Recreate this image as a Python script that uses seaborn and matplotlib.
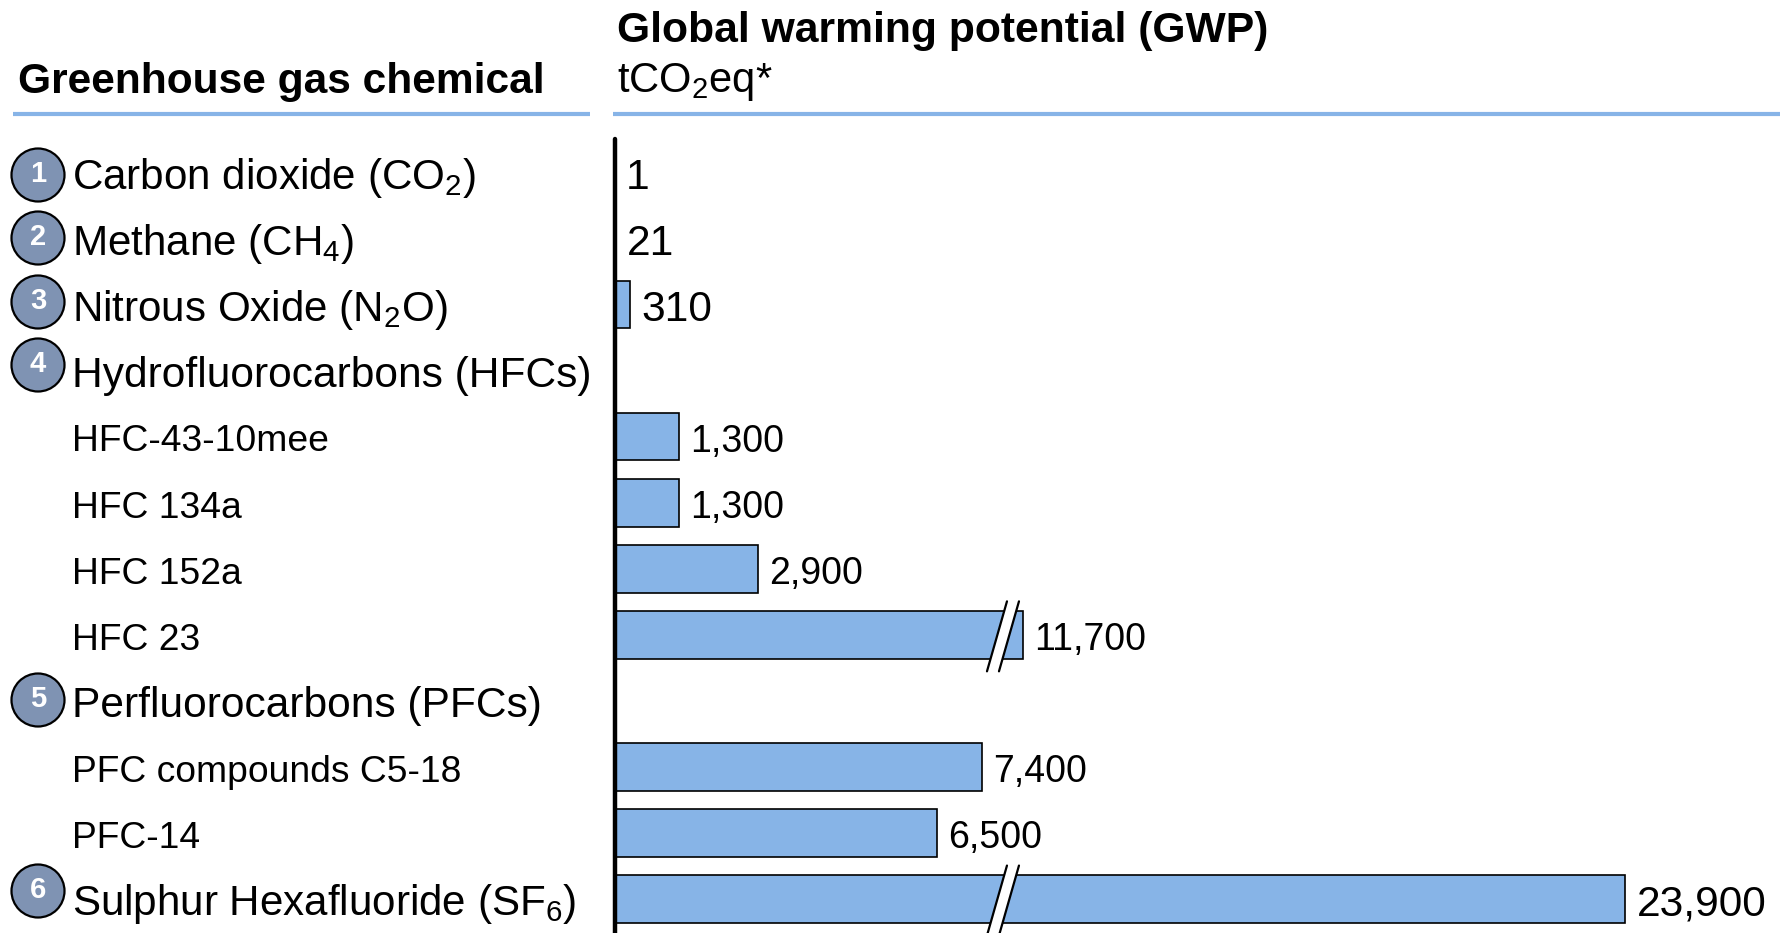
# GWP of greenhouse gases, horizontal bars with a broken axis
import numpy as np
import pandas as pd
import matplotlib
matplotlib.use('Agg')
import matplotlib.pyplot as plt
from matplotlib.patches import Circle
from matplotlib.transforms import blended_transform_factory
import seaborn as sns

# Data
gases = ['Carbon dioxide (CO$_2$)', 'Methane (CH$_4$)', 'Nitrous Oxide (N$_2$O)',
         'Hydrofluorocarbons (HFCs)', 'HFC-43-10mee', 'HFC 134a', 'HFC 152a', 'HFC 23',
         'Perfluorocarbons (PFCs)', 'PFC compounds C5-18', 'PFC-14',
         'Sulphur Hexafluoride (SF$_6$)']
gwp = [1, 21, 310, np.nan, 1300, 1300, 2900, 11700, np.nan, 7400, 6500, 23900]
is_group = [True, True, True, True, False, False, False, False, True, False, False, True]
badge_numbers = ['1', '2', '3', '4', '5', '6']
badge_y = [175, 238, 302, 365, 700, 891]
broken_rows = [7, 11]

BLUE = '#87B4E7'
BADGE = '#7F93B3'

sns.set_theme(style='white')
plt.rcParams['font.family'] = ['Liberation Sans', 'DejaVu Sans']
plt.rcParams['text.color'] = 'black'
plt.rcParams['mathtext.fontset'] = 'custom'
plt.rcParams['mathtext.rm'] = 'Liberation Sans'
plt.rcParams['mathtext.default'] = 'regular'

# Axis scale squeezes the range hidden by the break marks
knots_true = [0, 7850, 11400, 23900, 40000]
knots_shown = [0, 7850, 7936, 20383, 36416]


def squeeze(x):
    return np.interp(x, knots_true, knots_shown)


def unsqueeze(x):
    return np.interp(x, knots_shown, knots_true)


df = pd.DataFrame({'gas': gases, 'gwp': gwp})

fig = plt.figure(figsize=(17.8, 9.33), dpi=100)
ax = fig.add_axes([614.5 / 1780, 0, 1165.5 / 1780, 794 / 933])
sns.barplot(data=df, y='gas', x='gwp', order=gases, orient='h', width=0.72,
            color=BLUE, saturation=1, edgecolor='black', linewidth=1.2, ax=ax)
ax.set_xscale('function', functions=(squeeze, unsqueeze))
ax.set_xlim(0, unsqueeze(23498))
ax.set_ylim(11.514, -0.507)
ax.set_xticks([])
ax.set_yticks([])
ax.minorticks_off()
ax.set_xlabel('')
ax.set_ylabel('')
sns.despine(ax=ax, left=False, top=True, right=True, bottom=True)
ax.spines['left'].set_color('black')
ax.spines['left'].set_linewidth(3.2)
ax.spines['left'].set_capstyle('round')

# Overlay in pixels for the headers, badges and break marks
over = fig.add_axes([0, 0, 1, 1], zorder=5)
over.set_xlim(0, 1780)
over.set_ylim(933, 0)
over.axis('off')

over.text(18, 82, 'Greenhouse gas chemical', fontsize=30.6, fontweight='bold', va='center')
over.text(617, 31, 'Global warming potential (GWP)', fontsize=30.7, fontweight='bold', va='center')
over.text(617, 82, 'tCO$_2$eq*', fontsize=30, va='center')
over.plot([13, 590], [114, 114], color=BLUE, lw=3, solid_capstyle='butt')
over.plot([613, 1780], [114, 114], color=BLUE, lw=3, solid_capstyle='butt')

# Row labels
label_tr = blended_transform_factory(over.transData, ax.transData)
for i, (name, group) in enumerate(zip(gases, is_group)):
    size = 30.6 if group else 26.8
    if '$' in name:
        size = 30.3
    ax.text(72, i + 0.08, name, transform=label_tr, fontsize=size,
            va='center', ha='left', clip_on=False)

# Value labels
for i, v in enumerate(gwp):
    if not np.isnan(v):
        ax.annotate(f'{v:,}', (v, i + 0.08), xytext=(8, 0), textcoords='offset points',
                    fontsize=30.6 if i < 3 or i == 11 else 27, va='center', ha='left')

# Numbered badges
for num, y in zip(badge_numbers, badge_y):
    over.add_patch(Circle((38, y), 26.5, facecolor=BADGE, edgecolor='black', lw=1.6))
    over.text(38, y - 1, num, color='white', fontsize=21, fontweight='bold',
              ha='center', va='center')

# Break marks across the long bars
to_over = ax.transData + over.transData.inverted()
for row in broken_rows:
    cx, cy = to_over.transform((squeeze(7812), row))
    cy = cy + 1.5
    xs = np.array([cx - 5 + 10, cx + 7 + 10, cx + 7 - 10, cx - 5 - 10])
    ys = np.array([cy - 35, cy - 35, cy + 35, cy + 35])
    over.fill(xs, ys, color='white', lw=0)
    over.plot(xs[[0, 3]], ys[[0, 3]], color='black', lw=1.6)
    over.plot(xs[[1, 2]], ys[[1, 2]], color='black', lw=1.6)

fig.savefig('out.png', dpi=100)
